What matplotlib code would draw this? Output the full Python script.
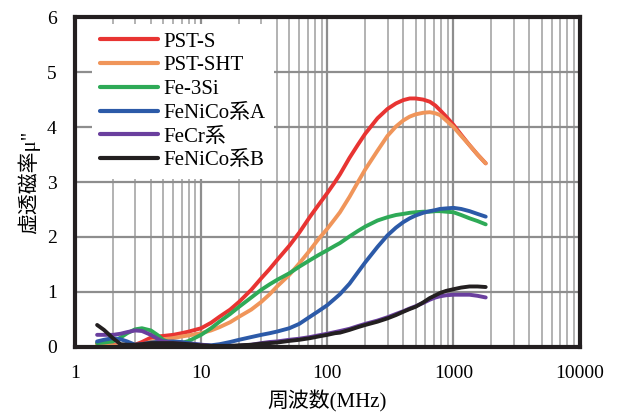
import matplotlib
matplotlib.use("Agg")
import matplotlib.pyplot as plt
from matplotlib.ticker import LogLocator, NullFormatter

plt.rcParams['font.family'] = ['Liberation Serif', 'Noto Sans CJK JP', 'DejaVu Sans']

# frequency (MHz)
freq = [1.5, 1.7, 2, 2.3, 2.6, 3, 3.4, 4, 4.5, 5, 6, 7, 8, 10, 12, 14, 17, 20,
        25, 30, 35, 40, 50, 60, 73, 85, 100, 115, 126, 150, 175, 200, 250, 300,
        350, 400, 450, 500, 575, 650, 720, 780, 875, 1000, 1150, 1340, 1550, 1800]

pst_s = [0.07, 0.06, 0.04, 0.02, 0.01, 0.04, 0.09, 0.17, 0.19, 0.20, 0.22, 0.25,
         0.28, 0.34, 0.44, 0.55, 0.68, 0.82, 1.04, 1.25, 1.42, 1.58, 1.84, 2.08,
         2.37, 2.58, 2.80, 3.00, 3.14, 3.44, 3.68, 3.88, 4.16, 4.33, 4.43, 4.49,
         4.52, 4.52, 4.50, 4.46, 4.39, 4.31, 4.19, 4.04, 3.86, 3.67, 3.50, 3.34]
pst_sht = [0.05, 0.04, 0.03, 0.02, 0.01, 0.00, 0.03, 0.10, 0.12, 0.14, 0.16, 0.19,
           0.21, 0.25, 0.30, 0.36, 0.45, 0.55, 0.68, 0.82, 0.96, 1.10, 1.31, 1.52,
           1.76, 1.96, 2.15, 2.33, 2.45, 2.73, 3.00, 3.23, 3.57, 3.84, 4.01, 4.12,
           4.19, 4.23, 4.26, 4.27, 4.25, 4.22, 4.12, 4.00, 3.84, 3.67, 3.50, 3.34]
fe3si = [0.07, 0.08, 0.10, 0.17, 0.25, 0.32, 0.34, 0.30, 0.22, 0.13, 0.05, 0.07,
         0.11, 0.22, 0.34, 0.46, 0.60, 0.73, 0.90, 1.04, 1.14, 1.22, 1.34, 1.46,
         1.58, 1.67, 1.76, 1.84, 1.89, 2.01, 2.11, 2.19, 2.30, 2.36, 2.40, 2.42,
         2.44, 2.45, 2.46, 2.46, 2.47, 2.47, 2.46, 2.45, 2.40, 2.34, 2.29, 2.23]
fenico_a = [0.10, 0.13, 0.16, 0.14, 0.10, 0.04, 0.05, 0.08, 0.09, 0.10, 0.10, 0.09,
            0.07, 0.04, 0.03, 0.05, 0.09, 0.13, 0.18, 0.22, 0.25, 0.28, 0.34, 0.42,
            0.55, 0.65, 0.76, 0.88, 0.96, 1.15, 1.36, 1.54, 1.82, 2.03, 2.17, 2.27,
            2.34, 2.39, 2.44, 2.47, 2.49, 2.51, 2.52, 2.53, 2.51, 2.47, 2.42, 2.37]
fecr = [0.22, 0.22, 0.22, 0.24, 0.27, 0.30, 0.29, 0.22, 0.15, 0.10, 0.07, 0.06,
        0.05, 0.04, 0.02, 0.01, 0.01, 0.02, 0.04, 0.07, 0.09, 0.10, 0.13, 0.15,
        0.18, 0.21, 0.24, 0.27, 0.29, 0.33, 0.38, 0.42, 0.48, 0.54, 0.60, 0.65,
        0.70, 0.74, 0.80, 0.86, 0.90, 0.92, 0.94, 0.95, 0.95, 0.95, 0.93, 0.90]
fenico_b = [0.40, 0.31, 0.16, 0.05, 0.04, 0.04, 0.05, 0.07, 0.07, 0.07, 0.07, 0.06,
            0.05, 0.03, 0.02, 0.02, 0.02, 0.03, 0.04, 0.06, 0.07, 0.08, 0.11, 0.13,
            0.16, 0.19, 0.22, 0.25, 0.26, 0.31, 0.36, 0.40, 0.46, 0.52, 0.58, 0.64,
            0.69, 0.73, 0.81, 0.89, 0.94, 0.98, 1.02, 1.05, 1.08, 1.10, 1.10, 1.09]

names = ["PST-S", "PST-SHT", "Fe-3Si", "FeNiCo系A", "FeCr系", "FeNiCo系B"]
series = [pst_s, pst_sht, fe3si, fenico_a, fecr, fenico_b]
colors = ["#e83432", "#f0955a", "#2eaa57", "#2c5aa8", "#6a3f9e", "#231f20"]

xticks = [1, 10, 100, 1000, 10000]
xtick_labels = ["1", "10", "100", "1000", "10000"]
yticks = [0, 1, 2, 3, 4, 5, 6]

fig = plt.figure(figsize=(6.24, 4.17), dpi=100)
ax = fig.add_axes([0.120, 0.168, 0.809, 0.791])

for name, vals, c in zip(names, series, colors):
    ax.plot(freq, vals, color=c, lw=2.8, label=name,
            solid_capstyle='round', solid_joinstyle='round')

ax.set_xscale('log')
ax.set_xlim(1, 10000)
ax.set_ylim(0, 6)
ax.set_xticks(xticks)
ax.set_xticklabels(xtick_labels)
ax.xaxis.set_minor_locator(LogLocator(base=10, subs=range(2, 10)))
ax.xaxis.set_minor_formatter(NullFormatter())
ax.set_yticks(yticks)

ax.grid(True, which='major', color='#8e8e8e', lw=1.6)
ax.grid(True, which='minor', axis='x', color='#b2b2b2', lw=1.4)
ax.set_axisbelow(True)

ax.tick_params(which='both', length=0, labelsize=14)
ax.tick_params(axis='y', pad=13)
ax.tick_params(axis='x', pad=13)
for s in ax.spines.values():
    s.set_linewidth(3)
    s.set_color('#231f20')

ax.set_xlabel("周波数(MHz)", fontsize=15, labelpad=6)
ax.set_ylabel("虚透磁率μ\"", fontsize=15, labelpad=5)

leg = ax.legend(loc='upper left', bbox_to_anchor=(0.033, 0.980), fontsize=15,
                frameon=True, fancybox=False, handlelength=2.8,
                handletextpad=0.25, labelspacing=0.2,
                borderaxespad=0, borderpad=0.4)
leg.get_frame().set_facecolor('white')
leg.get_frame().set_edgecolor('none')
leg.get_frame().set_alpha(1)
for line in leg.get_lines():
    line.set_linewidth(3)

fig.savefig("out.png", dpi=100)
